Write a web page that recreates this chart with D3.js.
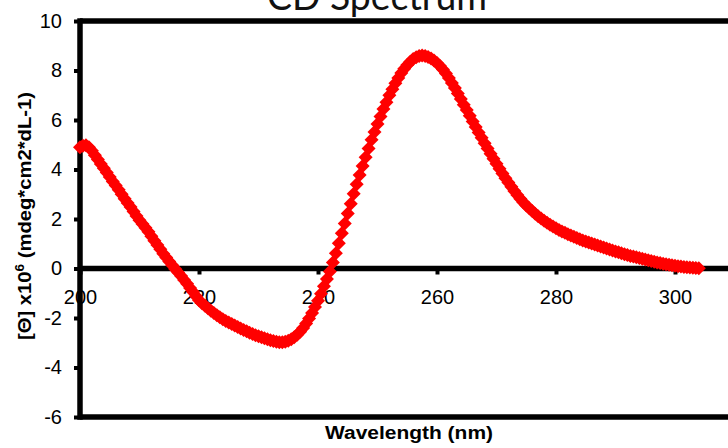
<!DOCTYPE html>
<html>
<head>
<meta charset="utf-8">
<script src="https://cdn.jsdelivr.net/npm/d3@7"></script>
<style>
  body { margin: 0; background: #fff; overflow: hidden; }
  svg { display: block; }
</style>
</head>
<body>
<div id="chart"></div>
<script>
// wavelength sampling (nm) and ellipticity values
const wlStart = 200;
const wlStep = 0.5;
const theta = [
  4.90, 4.96, 4.98, 4.90, 4.76, 4.58, 4.40, 4.22, 4.05, 3.88,
  3.70, 3.52, 3.35, 3.18, 3.00, 2.82, 2.65, 2.48, 2.30, 2.12,
  1.95, 1.80, 1.65, 1.48, 1.30, 1.12, 0.95, 0.78, 0.60, 0.44,
  0.28, 0.13, -0.02, -0.16, -0.30, -0.46, -0.62, -0.79, -0.95, -1.12,
  -1.28, -1.40, -1.51, -1.61, -1.71, -1.80, -1.89, -1.97, -2.05, -2.12,
  -2.18, -2.24, -2.30, -2.36, -2.42, -2.48, -2.54, -2.60, -2.65, -2.70,
  -2.74, -2.78, -2.82, -2.86, -2.90, -2.93, -2.96, -2.98, -2.98, -2.96,
  -2.92, -2.86, -2.78, -2.68, -2.56, -2.40, -2.22, -2.02, -1.80, -1.56,
  -1.30, -1.02, -0.72, -0.42, -0.12, 0.24, 0.62, 1.02, 1.42, 1.82,
  2.22, 2.62, 3.02, 3.40, 3.78, 4.14, 4.50, 4.85, 5.20, 5.52,
  5.84, 6.14, 6.44, 6.72, 7.00, 7.24, 7.48, 7.70, 7.90, 8.07,
  8.22, 8.35, 8.46, 8.54, 8.59, 8.61, 8.59, 8.55, 8.48, 8.40,
  8.30, 8.18, 8.04, 7.88, 7.70, 7.50, 7.29, 7.07, 6.85, 6.62,
  6.40, 6.17, 5.94, 5.72, 5.50, 5.28, 5.06, 4.85, 4.64, 4.43,
  4.23, 4.03, 3.84, 3.65, 3.47, 3.30, 3.13, 2.97, 2.82, 2.68,
  2.55, 2.43, 2.32, 2.21, 2.11, 2.02, 1.93, 1.85, 1.77, 1.70,
  1.63, 1.56, 1.50, 1.44, 1.38, 1.33, 1.28, 1.23, 1.18, 1.13,
  1.09, 1.05, 1.01, 0.97, 0.93, 0.89, 0.85, 0.81, 0.77, 0.73,
  0.69, 0.66, 0.62, 0.58, 0.55, 0.51, 0.48, 0.45, 0.42, 0.39,
  0.36, 0.33, 0.30, 0.27, 0.24, 0.22, 0.19, 0.17, 0.15, 0.13,
  0.11, 0.09, 0.08, 0.06, 0.05, 0.04, 0.03, 0.02, 0.01
];
const xTicks = [200, 220, 240, 260, 280, 300];
const yTicks = [-6, -4, -2, 0, 2, 4, 6, 8, 10];
const xDomain = [200, 310];
const yDomain = [-6, 10];

const svgWidth = 728;
const svgHeight = 448;

const data = theta.map((v, i) => ({wl: wlStart + i * wlStep, v: v}));

const svg = d3.select('#chart')
                .append('svg')
                .attr('width', svgWidth)
                .attr('height', svgHeight);

// plot box runs past the right edge of the picture
const x = d3.scaleLinear().domain(xDomain).range([80, 80 + 110 * 5.95]);
const y = d3.scaleLinear().domain(yDomain).range([417, 21]);

// title, clipped at the top
svg.append('text')
    .attr('x', 267)
    .attr('y', 10)
    .attr('textLength', 220)
    .attr('lengthAdjust', 'spacingAndGlyphs')
    .style('font-family', 'Lato, "Open Sans", sans-serif')
    .style('font-size', '38px')
    .attr('fill', '#111')
    .text('CD Spectrum');

// y axis ticks + labels
const yAxis = svg.append('g')
                  .attr('transform', `translate(${x(200)},0)`)
                  .call(d3.axisLeft(y)
                            .tickValues(yTicks)
                            .tickSize(6)
                            .tickPadding(12)
                            .tickFormat(d => String(d)));
yAxis.select('.domain').remove();
yAxis.selectAll('.tick line').attr('stroke', '#000').attr('stroke-width', 4);
yAxis.selectAll('.tick text')
    .style('font-family', '"Liberation Sans", Arial, sans-serif')
    .style('font-size', '20px')
    .attr('fill', '#000');

// x axis sits on the zero line
const xAxis = svg.append('g')
                  .attr('transform', `translate(0,${y(0)})`)
                  .call(d3.axisBottom(x)
                            .tickValues(xTicks)
                            .tickSize(6)
                            .tickPadding(15)
                            .tickFormat(d => String(d)));
xAxis.select('.domain').remove();
xAxis.selectAll('.tick line').attr('stroke', '#000').attr('stroke-width', 4);
xAxis.selectAll('.tick text')
    .style('font-family', '"Liberation Sans", Arial, sans-serif')
    .style('font-size', '20px')
    .attr('fill', '#000');

// frame and zero line
const frame = svg.append('g').attr('stroke', '#000').attr('stroke-width', 5.5);
frame.append('line')
    .attr('x1', x(200)).attr('x2', x(200))
    .attr('y1', y(10) - 2.75).attr('y2', y(-6) + 2.75);
frame.append('line')
    .attr('x1', x(200)).attr('x2', x(310))
    .attr('y1', y(10)).attr('y2', y(10));
frame.append('line')
    .attr('x1', x(200)).attr('x2', x(310))
    .attr('y1', y(-6)).attr('y2', y(-6));
frame.append('line')
    .attr('x1', x(200)).attr('x2', x(310))
    .attr('y1', y(0)).attr('y2', y(0));

// axis titles
svg.append('text')
    .attr('x', 325)
    .attr('y', 439)
    .attr('textLength', 168)
    .attr('lengthAdjust', 'spacingAndGlyphs')
    .style('font-family', '"Liberation Sans", Arial, sans-serif')
    .style('font-size', '18px')
    .style('font-weight', 'bold')
    .text('Wavelength (nm)');

const yTitle = svg.append('text')
                   .attr('transform', 'translate(31,340) rotate(-90)')
                   .attr('textLength', 248)
                   .attr('lengthAdjust', 'spacingAndGlyphs')
                   .style('font-family', '"Liberation Sans", Arial, sans-serif')
                   .style('font-size', '18px')
                   .style('font-weight', 'bold');
yTitle.append('tspan').text('[Θ] x10');
yTitle.append('tspan').attr('dy', -7).style('font-size', '12px').text('6');
yTitle.append('tspan').attr('dy', 7).text(' (mdeg*cm2*dL-1)');

// diamond markers
const r = 7;
const diamond = `M0,${-r}L${r},0L0,${r}L${-r},0Z`;
svg.append('g')
    .selectAll('path')
    .data(data)
    .join('path')
    .attr('transform', d => `translate(${x(d.wl)},${y(d.v)})`)
    .attr('d', diamond)
    .attr('fill', '#ff0000');
</script>
</body>
</html>
